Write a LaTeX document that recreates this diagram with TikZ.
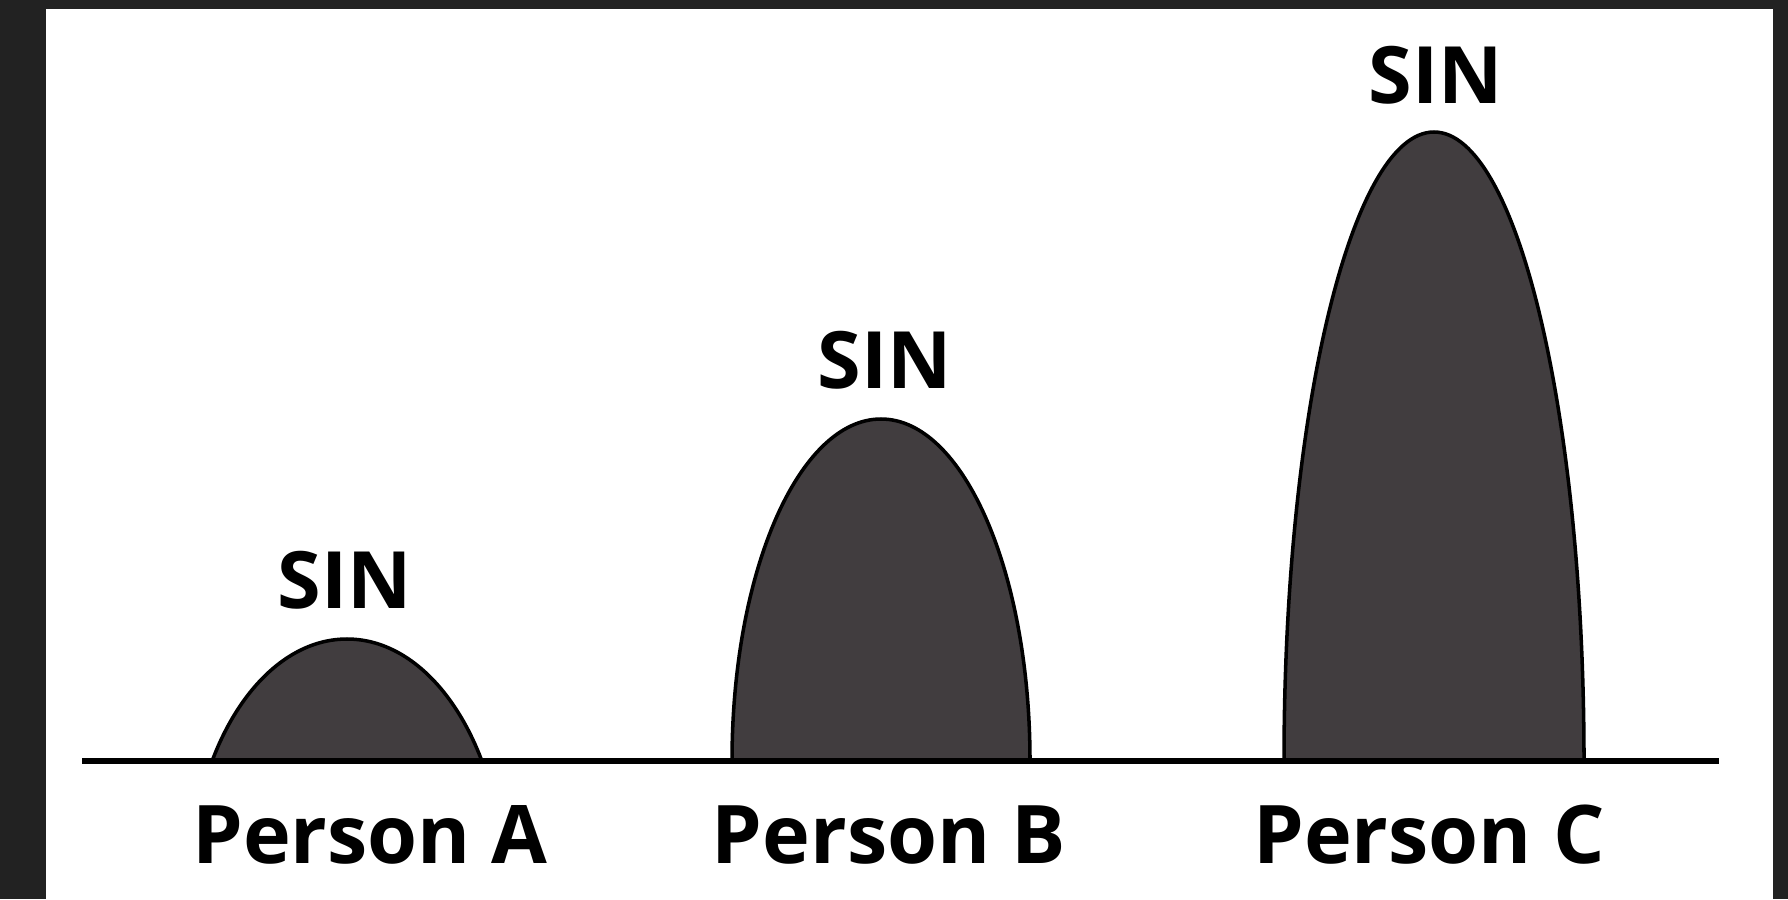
\documentclass[tikz,border=0pt]{standalone}
\usepackage{fontspec}
\setmainfont{Open Sans}
\usepackage{xcolor}
\usepackage{tikz}
\usetikzlibrary{positioning}
\definecolor{framegray}{HTML}{222222}
\definecolor{humpgray}{HTML}{413D3F}
\tikzset{
    hump/.style={fill=humpgray, draw=black, line width=1pt},
    ground/.style={draw=black, line width=1.5pt},
    sin label/.style={font=\bfseries\fontsize{22.5}{27}\selectfont, anchor=base, inner sep=0pt},
    person label/.style={font=\bfseries\fontsize{23}{28}\selectfont, anchor=base, inner sep=0pt}
}

\begin{document}
\begin{tikzpicture}[x=0.01cm, y=0.01cm]
    \fill[framegray] (0,0) rectangle (1788,899);
    \fill[white] (46,0) rectangle (1773,890);
    \useasboundingbox (0,0) rectangle (1788,899);

    \foreach \cx/\rx/\ry/\dep in {347/157/250/128, 881/149/342/0, 1434/150/629/0}{
        \begin{scope}
            \clip (\cx-200,138) rectangle (\cx+200,899);
            \filldraw[hump] (\cx,138-\dep) ellipse [x radius=\rx, y radius=\ry];
        \end{scope}
    }

    \coordinate (groundL) at (82,138);
    \coordinate (groundR) at (1719,138);
    \draw[ground] (groundL) -- (groundR);

    \node[sin label] (sinA) at (345,291) {SIN};
    \node[sin label] (sinB) at (885,511) {SIN};
    \node[sin label] (sinC) at (1436,796) {SIN};

    \node[person label] (personA) at (370,36) {Person A};
    \node[person label] (personB) at (889,36) {Person B};
    \node[person label] (personC) at (1429,36) {Person C};

\end{tikzpicture}
\end{document}
